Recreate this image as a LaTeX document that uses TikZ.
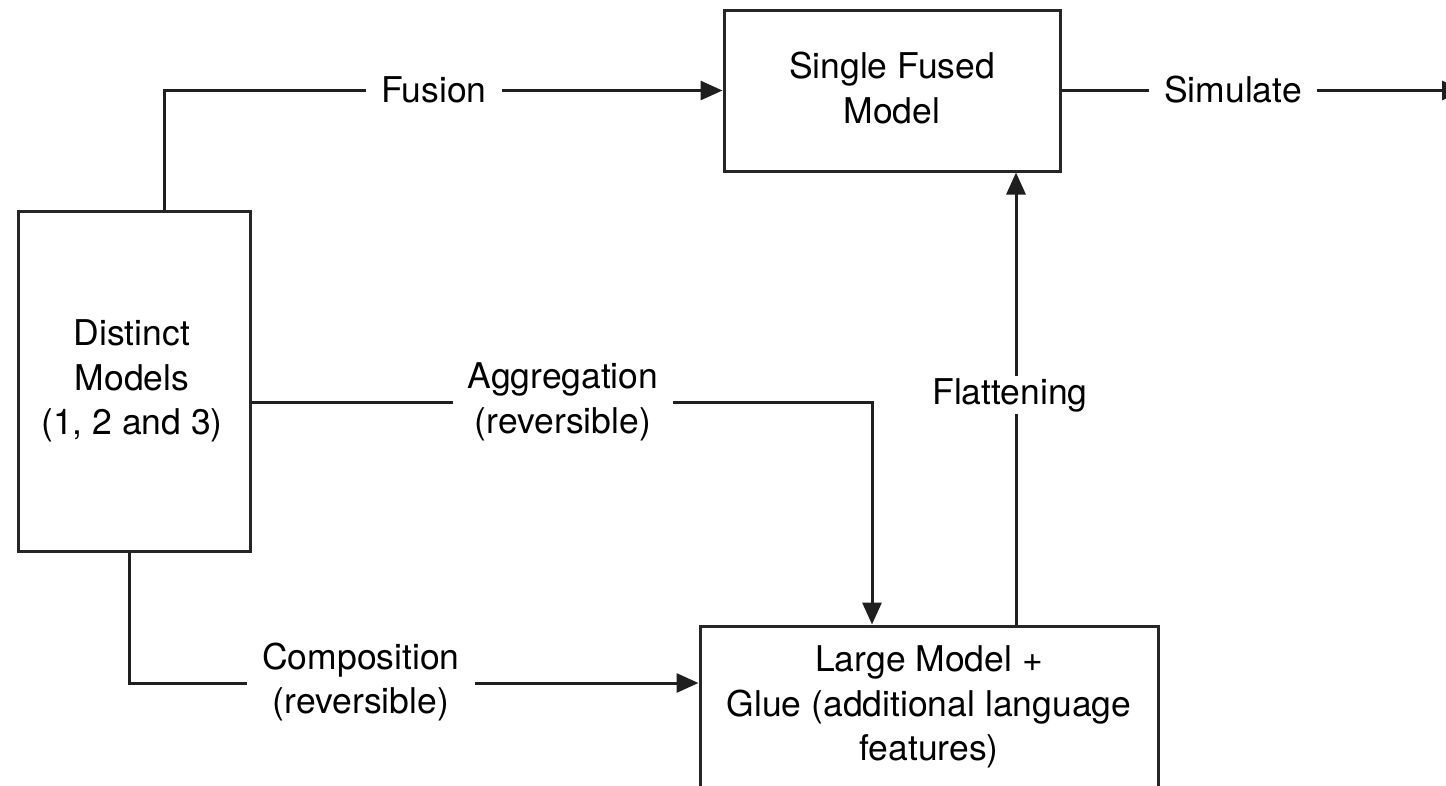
\documentclass[tikz,border=0pt]{standalone}
\usepackage{fontspec}
\setmainfont{TeX Gyre Heros}
\usetikzlibrary{arrows.meta}
\begin{document}
\begin{tikzpicture}[x=1pt,y=1pt,
  box/.style={draw=black!85,line width=3pt,fill=white,inner sep=0pt},
  txt/.style={align=center,font=\fontsize{35.5}{44.5}\selectfont,inner sep=0pt},
  lab/.style={txt,fill=white,inner xsep=15pt,inner ysep=2pt},
  conn/.style={draw=black!88,line width=3pt},
  arr/.style={conn,-{Triangle[length=22pt,width=19pt]}}]
\useasboundingbox (0,0) rectangle (1446,-785);
\clip (0,0) rectangle (1446,-785);
% boxes
\node[box,minimum width=336pt,minimum height=161pt] (fused) at (892,-90.5) {};
\node[txt] (fusedtxt) at (892,-88) {Single Fused\\Model};
\node[box,minimum width=232pt,minimum height=340pt] (distinct) at (134,-381) {};
\node[txt] (distincttxt) at (132,-381) {Distinct\\Models\\(1, 2 and 3)};
\node[box,minimum width=458pt,minimum height=240pt] (large) at (929,-746) {};
\node[txt] (largetxt) at (929,-707) {Large Model +\\Glue (additional language\\features)};
\coordinate (simend) at (1464,-90.5);
% connectors
\draw[arr] ([xshift=30pt]distinct.north) |- (fused.west);
\draw[arr] (fused.east) -- (simend);
\draw[arr] ([yshift=-21pt]distinct.east) -| ([xshift=-57pt]large.north);
\draw[arr] ([xshift=-5pt]distinct.south) |- (large.west |- 0,-683);
\draw[arr] ([xshift=87pt]large.north) -- ([xshift=87pt]large.north |- fused.south);
% labels
\node[lab] (lfusion) at (434,-90) {Fusion};
\node[lab] (lsim) at (1233,-90) {Simulate};
\node[lab] (lagg) at (563,-402) {Aggregation\\(reversible)};
\node[lab] (lcomp) at (361,-682) {Composition\\(reversible)};
\node[lab] (lflat) at (1010,-395) {Flattening};
\end{tikzpicture}
\end{document}
